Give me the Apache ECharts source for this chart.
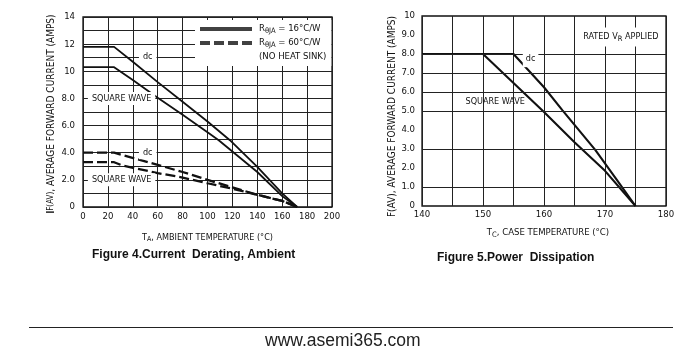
<!DOCTYPE html>
<html><head><meta charset="utf-8">
<script src="https://cdn.jsdelivr.net/npm/echarts@6/dist/echarts.min.js"></script>
<style>html,body{margin:0;padding:0;background:#fff}#c{width:700px;height:362px}</style>
</head><body><div id="c"></div>
<script>
// ---- Figure 4 data (ambient temperature, °C -> average forward current, A)
const fig4Ticks = [0,20,40,60,80,100,120,140,160,180,200];
const dcSolidT   = [0,25,40,60,80,100,118,140,160,172];
const dcSolidI   = [11.8,11.8,10.7,9.2,7.75,6.3,4.92,2.95,1.0,0];
const sqSolidT   = [0,25,40,60,80,100,109,140,160,172];
const sqSolidI   = [10.3,10.3,9.35,8.05,6.8,5.5,4.92,2.58,0.8,0];
const dcDashT    = [0,25,60,80,100,120,140,160,172];
const dcDashI    = [4.0,4.0,3.1,2.58,2.0,1.45,0.9,0.45,0];
const sqDashT    = [0,25,32,60,80,100,120,140,160,172];
const sqDashI    = [3.3,3.3,3.05,2.5,2.17,1.75,1.35,0.9,0.45,0];
const fig4Labels = [[52,11.05,'dc'],[31,8,'SQUARE WAVE'],[52,4.0,'dc'],[31,2,'SQUARE WAVE']];
const fig4Legend = ['RθJA = 16°C/W','RθJA = 60°C/W','(NO HEAT SINK)'];
// ---- Figure 5 data (case temperature, °C -> average forward current, A)
const dcCaseT = [140,155,160,163,168.4,172,175];
const dcCaseI = [8,8,6.25,5.05,2.95,1.35,0];
const sqCaseT = [140,150,160,165,170,175];
const sqCaseI = [8,8,4.95,3.35,1.85,0];
const fig5GridY = [1,3,5,6,7,8];
const fig5Labels = [[157.8,7.78,'dc',true],[152,5.5,'SQUARE WAVE',false]];
const fig5Rated = [172.6,8.9,'RATED V{s|R} APPLIED'];

const NARROW = "'Liberation Sans Narrow','Arial Narrow','DejaVu Sans Condensed',sans-serif";
const SANS = "'Liberation Sans',Arial,sans-serif";
const pair = (xs, ys) => xs.map((x,i)=>[x, ys[i]]);
const INK = '#111';

const chart = echarts.init(document.getElementById('c'), null, {renderer:'canvas'});
const axLabel = {fontFamily: NARROW, fontSize: 9.5, color: INK};
const split = {show:true, lineStyle:{color:'#222', width:1}};

const option = {
  animation:false,
  backgroundColor:'#fff',
  title:[
    {text:'Figure 4.Current  Derating, Ambient', left:87, top:244,
     textStyle:{fontFamily:SANS, fontSize:12, fontWeight:'bold', color:INK}},
    {text:'Figure 5.Power  Dissipation', left:432, top:247,
     textStyle:{fontFamily:SANS, fontSize:12, fontWeight:'bold', color:INK}},
    {text:'www.asemi365.com', left:260, top:327,
     textStyle:{fontFamily:SANS, fontSize:17.5, fontWeight:'normal', color:'#222'}}
  ],
  graphic:[
    {type:'line', shape:{x1:29, y1:327.5, x2:673, y2:327.5}, style:{stroke:'#222', lineWidth:1}}
  ],
  legend:{
    show:true, orient:'vertical', left:195, top:20, selectedMode:false,
    backgroundColor:'#fff', padding:[4,5,4,5], itemGap:3,
    itemWidth:52, itemHeight:4,
    textStyle:{fontFamily:NARROW, fontSize:9.5, color:INK, padding:[0,0,0,2],
      rich:{s:{fontFamily:NARROW, fontSize:7.5, padding:[4,0,0,0], color:INK}}},
    formatter: n => n.replace('θJA','{s|θJA}'),
    data:[
      {name:fig4Legend[0], icon:'rect'},
      {name:fig4Legend[1], icon:'path://M0,0h10v4h-10z M14,0h10v4h-10z M28,0h10v4h-10z M42,0h10v4h-10z'},
      {name:fig4Legend[2], icon:'none'}
    ]
  },
  grid:[
    {left:83, top:17, width:249, height:190, show:true, borderColor:INK, borderWidth:1.3, backgroundColor:'#fff'},
    {left:422, top:16, width:244, height:190, show:true, borderColor:INK, borderWidth:1.3, backgroundColor:'#fff'}
  ],
  xAxis:[
    {type:'value', gridIndex:0, min:0, max:200, interval:20,
     axisLine:{show:false}, axisTick:{show:false}, splitLine:split,
     axisLabel:Object.assign({margin:5}, axLabel),
     name:'T{s|A}, AMBIENT TEMPERATURE (°C)', nameLocation:'middle', nameGap:25,
     nameTextStyle:{fontFamily:NARROW, fontSize:9, color:INK, rich:{s:{fontSize:7, padding:[4,0,0,0], fontFamily:NARROW, color:INK}}}},
    {type:'value', gridIndex:1, min:140, max:180, interval:5,
     axisLine:{show:false}, axisTick:{show:false}, splitLine:split,
     axisLabel:Object.assign({margin:4, formatter: v => (v%10===0 ? String(v) : '')}, axLabel),
     name:'T{s|C}, CASE TEMPERATURE (°C)', nameLocation:'middle', nameGap:21,
     nameTextStyle:{fontFamily:NARROW, fontSize:9.5, color:INK, padding:[0,0,0,8], rich:{s:{fontSize:7.5, padding:[4,0,0,0], fontFamily:NARROW, color:INK}}}}
  ],
  yAxis:[
    {type:'value', gridIndex:0, min:0, max:14, interval:1,
     axisLine:{show:false}, axisTick:{show:false}, splitLine:split,
     axisLabel:Object.assign({margin:8, formatter: v => v%2 ? '' : (v===0 ? '0' : (v>=10 ? String(v) : v.toFixed(1)))}, axLabel),
     name:'{b|I}{s|F(AV)}, AVERAGE FORWARD CURRENT (AMPS)', nameLocation:'middle', nameGap:27, nameRotate:90,
     nameTextStyle:{fontFamily:NARROW, fontSize:10, color:INK, padding:[0,0,0,-4],
       rich:{b:{fontFamily:SANS, fontSize:10, fontWeight:'bold', color:INK}, s:{fontSize:8, fontFamily:NARROW, color:INK, padding:[0,0,0,0]}}}},
    {type:'value', gridIndex:1, min:0, max:10, interval:1,
     axisLine:{show:false}, axisTick:{show:false}, splitLine:{show:false},
     axisLabel:Object.assign({margin:7, formatter: v => (v===0 ? '0' : (v===10 ? '10' : v.toFixed(1)))}, axLabel),
     name:'F(AV), AVERAGE FORWARD CURRENT (AMPS)', nameLocation:'middle', nameGap:25, nameRotate:90,
     nameTextStyle:{fontFamily:NARROW, fontSize:10, color:INK, padding:[0,0,0,-11]}}
  ],
  series:[
    // legend carriers (no data)
    {name:fig4Legend[0], type:'scatter', xAxisIndex:0, yAxisIndex:0, data:[], itemStyle:{color:INK}},
    {name:fig4Legend[1], type:'scatter', xAxisIndex:0, yAxisIndex:0, data:[], itemStyle:{color:INK}},
    {name:fig4Legend[2], type:'scatter', xAxisIndex:0, yAxisIndex:0, data:[], itemStyle:{color:'rgba(0,0,0,0)'}},
    {type:'line', xAxisIndex:0, yAxisIndex:0, data:pair(dcSolidT, dcSolidI),
     symbol:'none', color:INK, lineStyle:{color:INK, width:1.8}, z:3},
    {type:'line', xAxisIndex:0, yAxisIndex:0, data:pair(sqSolidT, sqSolidI),
     symbol:'none', color:INK, lineStyle:{color:INK, width:1.8}, z:3},
    {type:'line', xAxisIndex:0, yAxisIndex:0, data:pair(dcDashT, dcDashI),
     symbol:'none', color:INK, lineStyle:{color:INK, width:2.3, type:[10,4]}, z:3},
    {type:'line', xAxisIndex:0, yAxisIndex:0, data:pair(sqDashT, sqDashI),
     symbol:'none', color:INK, lineStyle:{color:INK, width:2.3, type:[10,4]}, z:3},
    {type:'scatter', xAxisIndex:0, yAxisIndex:0, symbolSize:0.1, itemStyle:{color:'#fff'}, z:5, silent:true,
     emphasis:{disabled:true},
     data:fig4Labels.map(d=>({value:[d[0],d[1]], name:d[2]})),
     label:{show:true, position:'inside', formatter: p => p.name, fontFamily:NARROW, fontSize:9, color:INK, opacity:1,
       textBorderWidth:0, backgroundColor:'#fff', padding:[2,4,2,4]}},
    // Figure 5
    {type:'line', xAxisIndex:1, yAxisIndex:1, data:[], symbol:'none', silent:true,
     markLine:{silent:true, symbol:'none', animation:false, label:{show:false},
       lineStyle:{color:'#222', width:1, type:'solid'}, data:fig5GridY.map(v=>({yAxis:v}))}},
    {type:'line', xAxisIndex:1, yAxisIndex:1, data:pair(dcCaseT, dcCaseI),
     symbol:'none', color:INK, lineStyle:{color:INK, width:2.1}, z:3},
    {type:'line', xAxisIndex:1, yAxisIndex:1, data:pair(sqCaseT, sqCaseI),
     symbol:'none', color:INK, lineStyle:{color:INK, width:2.1}, z:3},
    {type:'scatter', xAxisIndex:1, yAxisIndex:1, symbolSize:0.1, itemStyle:{color:'#fff'}, z:5, silent:true,
     emphasis:{disabled:true},
     data:fig5Labels.map(d=>({value:[d[0],d[1]], name:d[2],
       label:{backgroundColor: d[3] ? '#fff' : 'transparent', padding: d[3] ? [5,3,4,3] : 0}}))
       .concat([{value:[fig5Rated[0],fig5Rated[1]], name:fig5Rated[2], label:{backgroundColor:'#fff', padding:[3,3,3,3]}}]),
     label:{show:true, position:'inside', formatter: p => p.name, fontFamily:NARROW, fontSize:9, color:INK, opacity:1,
       textBorderWidth:0, rich:{s:{fontFamily:NARROW, fontSize:7.5, padding:[5,0,0,0], color:INK}}}}
  ]
};
chart.setOption(option);
</script></body></html>
